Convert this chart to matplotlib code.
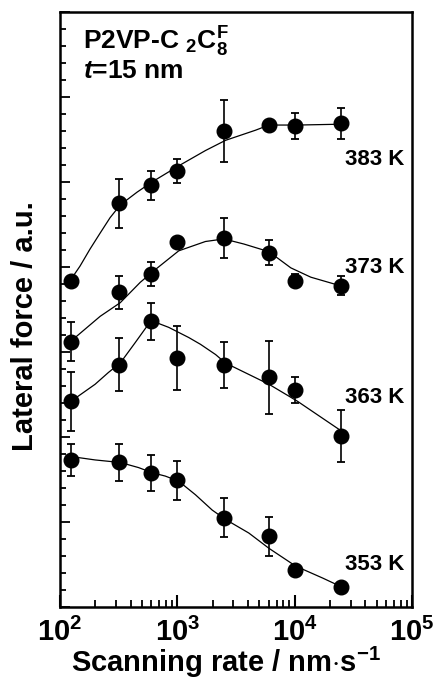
import matplotlib
matplotlib.use("Agg")
import matplotlib.pyplot as plt
from matplotlib.ticker import LogLocator, FixedLocator, NullFormatter

plt.rcParams['font.family'] = ['Liberation Sans', 'DejaVu Sans']
plt.rcParams['mathtext.fontset'] = 'custom'
plt.rcParams['mathtext.rm'] = 'Liberation Sans:bold'
plt.rcParams['mathtext.bf'] = 'Liberation Sans:bold'
plt.rcParams['mathtext.it'] = 'Liberation Sans:italic:bold'

# scanning rates (nm/s)
rates = [125, 320, 600, 1000, 2500, 6000, 10000, 25000]

temps = ['383 K', '373 K', '363 K', '353 K']

f383 = [3.83, 4.75, 4.96, 5.13, 5.60, 5.67, 5.66, 5.69]
e383 = [0, 0.29, 0.17, 0.14, 0.36, 0, 0.15, 0.18]
f373 = [3.12, 3.70, 3.92, 4.29, 4.34, 4.17, 3.84, 3.78]
e373 = [0.23, 0.19, 0.14, 0, 0.24, 0.15, 0.08, 0.11]
f363 = [2.42, 2.85, 3.36, 2.93, 2.85, 2.70, 2.55, 2.01]
e363 = [0.35, 0.31, 0.22, 0.38, 0.27, 0.43, 0.15, 0.31]
f353 = [1.73, 1.70, 1.58, 1.49, 1.05, 0.83, 0.43, 0.23]
e353 = [0.19, 0.22, 0.21, 0.23, 0.23, 0.23, 0, 0]

# guide-to-the-eye curves
cx383 = [122, 148, 180, 220, 267, 326, 453, 608, 1026, 1734, 2570, 4645, 6030, 10550, 24700]
cy383 = [3.84, 4.01, 4.21, 4.40, 4.58, 4.73, 4.88, 5.00, 5.19, 5.37, 5.49, 5.61, 5.67, 5.67, 5.68]
cx373 = [122, 220, 326, 483, 649, 1026, 1734, 2489, 3690, 6030, 9250, 13700, 21700, 26400]
cy373 = [3.12, 3.42, 3.58, 3.82, 3.97, 4.19, 4.30, 4.33, 4.27, 4.18, 3.99, 3.88, 3.80, 3.78]
cx363 = [124, 199, 259, 326, 437, 569, 649, 843, 1250, 1574, 2115, 2570, 6030, 10550, 25600]
cy363 = [2.42, 2.62, 2.76, 2.87, 3.11, 3.33, 3.35, 3.29, 3.17, 3.09, 2.97, 2.87, 2.62, 2.42, 2.06]
cx353 = [124, 199, 326, 467, 608, 789, 1026, 1426, 1980, 2570, 4060, 6030, 10200, 17300, 24700]
cy353 = [1.77, 1.73, 1.70, 1.64, 1.58, 1.54, 1.48, 1.32, 1.14, 1.03, 0.87, 0.69, 0.48, 0.34, 0.24]

label_y = [5.26, 3.99, 2.46, 0.50]

fig = plt.figure(figsize=(4.38, 6.82), dpi=100)
ax = fig.add_axes([0.137, 0.110, 0.804, 0.8724])

series = [(f383, e383, cx383, cy383), (f373, e373, cx373, cy373),
          (f363, e363, cx363, cy363), (f353, e353, cx353, cy353)]
for (f, e, cx, cy), name, ly in zip(series, temps, label_y):
    ax.plot(cx, cy, color='black', lw=0.9)
    ax.errorbar(rates, f, yerr=e, fmt='o', color='black', ms=10.5,
                elinewidth=1.2, capsize=2.8, capthick=1.3)
    ax.text(4.8e4, ly, name, ha='center', va='center', fontsize=16,
            fontweight='bold')

ax.set_xscale('log')
ax.set_xlim(1e2, 1e5)
ax.set_ylim(0, 7)

ax.xaxis.set_major_locator(FixedLocator([1e2, 1e3, 1e4, 1e5]))
ax.xaxis.set_minor_locator(LogLocator(base=10, subs=range(2, 10)))
ax.xaxis.set_minor_formatter(NullFormatter())
ax.set_xticklabels([r'10$^{2}$', r'10$^{3}$', r'10$^{4}$', r'10$^{5}$'],
                   fontsize=21, fontweight='bold')
ax.yaxis.set_major_locator(FixedLocator(range(0, 8)))
ax.yaxis.set_minor_locator(FixedLocator([i * 0.2 for i in range(36)]))
ax.set_yticklabels([])

ax.tick_params(axis='x', which='major', direction='in', length=9, width=1.5,
               pad=8, top=False)
ax.tick_params(axis='x', which='minor', direction='in', length=5, width=1.3,
               top=False)
ax.tick_params(axis='y', which='major', direction='in', length=7, width=1.3,
               right=False)
ax.tick_params(axis='y', which='minor', direction='in', length=4, width=1.3,
               right=False)
for s in ax.spines.values():
    s.set_linewidth(1.8)

ax.text(0.0645, 0.937, r'P2VP-C $_{\mathbf{2}}$C$^{\mathbf{F}}_{\mathbf{8}}$',
        transform=ax.transAxes, fontsize=19, fontweight='bold', va='baseline')
ax.text(0.0645, 0.889, r'$\mathit{t}$=15 nm', transform=ax.transAxes,
        fontsize=19, fontweight='bold', va='baseline')

fig.text(25 / 438, 1 - 326 / 682, 'Lateral force / a.u.', rotation=90,
         ha='center', va='center', fontsize=21, fontweight='bold')
fig.text(226 / 438, 1 - 672 / 682, r'Scanning rate / nm$\cdot$s$^{-1}$',
         ha='center', va='baseline', fontsize=21, fontweight='bold')

fig.savefig('out.png', dpi=100)
